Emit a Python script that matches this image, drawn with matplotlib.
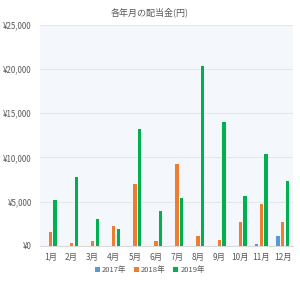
import matplotlib
matplotlib.use("Agg")
import matplotlib.pyplot as plt
import numpy as np
from matplotlib.ticker import FuncFormatter

plt.rcParams['font.family'] = ['Noto Sans CJK JP', 'DejaVu Sans']

months = ['1月', '2月', '3月', '4月', '5月', '6月', '7月', '8月', '9月', '10月', '11月', '12月']
series_names = ['2017年', '2018年', '2019年']
v2017 = [0, 0, 0, 0, 0, 0, 0, 0, 0, 0, 230, 1130]
v2018 = [1600, 340, 560, 2220, 6950, 600, 9250, 1130, 680, 2670, 4700, 2700]
v2019 = [5150, 7810, 3040, 1920, 13200, 3950, 5410, 20370, 14010, 5640, 10370, 7330]
yticks = [0, 5000, 10000, 15000, 20000, 25000]
colors = ['#5B9BD5', '#ED7D31', '#00B050']

fig = plt.figure(figsize=(3.0, 2.83), dpi=100)
ax = fig.add_axes([0.133, 0.131, 0.844, 0.782])
ax.set_facecolor('#F4F8FC')

x = np.arange(len(months))
offsets = [-0.22, 0.0, 0.22]
w = 0.16
for vals, off, c, name in zip([v2017, v2018, v2019], offsets, colors, series_names):
    ax.bar(x + off, vals, width=w, color=c, label=name, zorder=3)

ax.set_xlim(-0.5, len(months) - 0.5)
ax.set_ylim(0, 25000)
ax.set_yticks(yticks)
ax.yaxis.set_major_formatter(FuncFormatter(lambda v, p: '¥{:,.0f}'.format(v)))
ax.set_xticks(x)
ax.set_xticklabels(months)
ax.grid(axis='y', color='#E4E8EC', linewidth=0.8, zorder=0)
for s in ['top', 'right', 'left']:
    ax.spines[s].set_visible(False)
ax.spines['bottom'].set_color('#D9D9D9')
ax.spines['bottom'].set_linewidth(0.8)
ax.tick_params(axis='y', length=0, labelsize=5.7, colors='#595959', pad=6)
ax.tick_params(axis='x', length=0, labelsize=6, colors='#595959', pad=5)

fig.text(0.5, 0.957, '各年月の配当金(円)', ha='center', va='center', fontsize=6.5, color='#595959')
fig.legend(loc='center', bbox_to_anchor=(0.5, 0.045), ncol=3, frameon=False,
           fontsize=5.5, handlelength=0.6, handleheight=0.6, handletextpad=0.3,
           columnspacing=1.0, labelcolor='#595959')

fig.savefig('out.png', dpi=100)
